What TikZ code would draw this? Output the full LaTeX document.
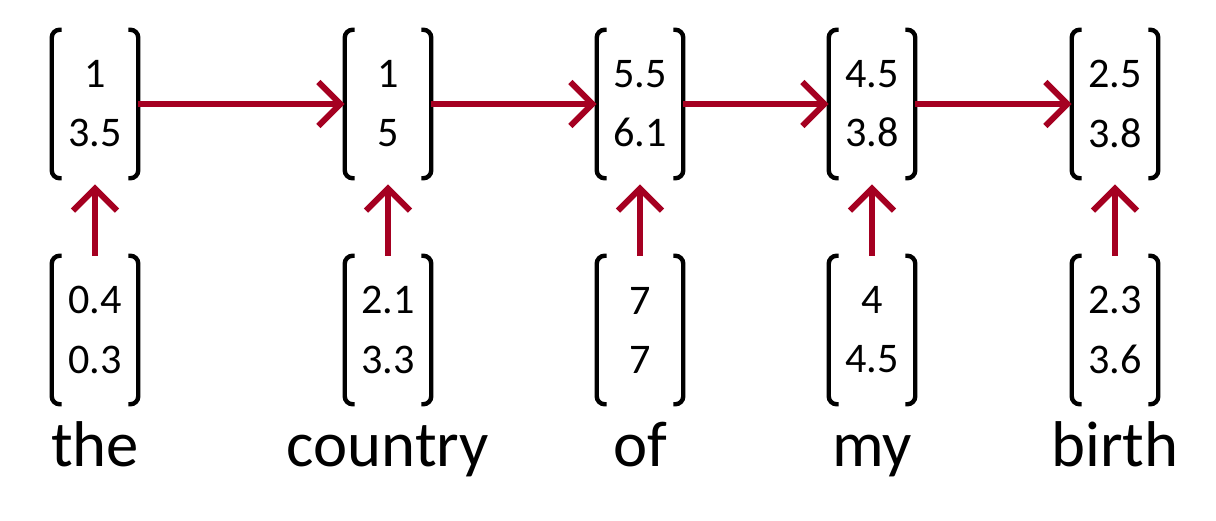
\documentclass[tikz,border=0pt]{standalone}
\usepackage{fontspec}
\setmainfont{Carlito}
\usetikzlibrary{arrows.meta}
\definecolor{arrowred}{HTML}{A50021}
\def\vecwd{86}
\def\vecht{148}
\begin{document}
\begin{tikzpicture}[x=0.025cm,y=-0.025cm]
    \tikzstyle{vec}=[minimum width=\vecwd*0.025cm,minimum height=\vecht*0.025cm,inner sep=0pt,
        align=center,font=\fontsize{30}{42}\selectfont]
    \tikzstyle{word}=[font=\fontsize{46}{50}\selectfont,anchor=base]
    \tikzstyle{link}=[draw=arrowred,line width=0.15cm,-{Straight Barb[length=0.55cm,width=1.1cm,line width=0.15cm]}]
    \tikzstyle{brack}=[line width=0.11cm,rounded corners=0.2cm]
    \useasboundingbox (0,0) rectangle (1216,520);

    % Hidden vectors, input vectors and words
    \foreach \name / \x / \top / \bot / \word in {1/95/{1\\3.5}/{0.4\\0.3}/the,
                                                 2/388/{1\\5}/{2.1\\3.3}/country,
                                                 3/640/{5.5\\6.1}/{7\\7}/of,
                                                 4/872/{4.5\\3.8}/{4\\4.5}/my,
                                                 5/1115/{2.5\\3.8}/{2.3\\3.6}/birth}
    {
        \node[vec] (H-\name) at (\x,104) {\top};
        \node[vec] (X-\name) at (\x,330) {\bot};
        \node[word] (W-\name) at (\x,466) {\word};
    }

    % Brackets around every vector
    \foreach \v in {H-1,H-2,H-3,H-4,H-5,X-1,X-2,X-3,X-4,X-5}
    {
        \draw[brack] ([xshift=10*0.025cm]\v.north west) -- (\v.north west) -- (\v.south west) -- ([xshift=10*0.025cm]\v.south west);
        \draw[brack] ([xshift=-10*0.025cm]\v.north east) -- (\v.north east) -- (\v.south east) -- ([xshift=-10*0.025cm]\v.south east);
    }

    % Connect the hidden states and feed the inputs
    \foreach \source / \dest in {1/2,2/3,3/4,4/5}
        \path[link] (H-\source) -- (H-\dest.west);
    \foreach \n in {1,...,5}
        \path[link] (X-\n.north) -- ([yshift=-6*0.025cm]H-\n.south);
\end{tikzpicture}
\end{document}
